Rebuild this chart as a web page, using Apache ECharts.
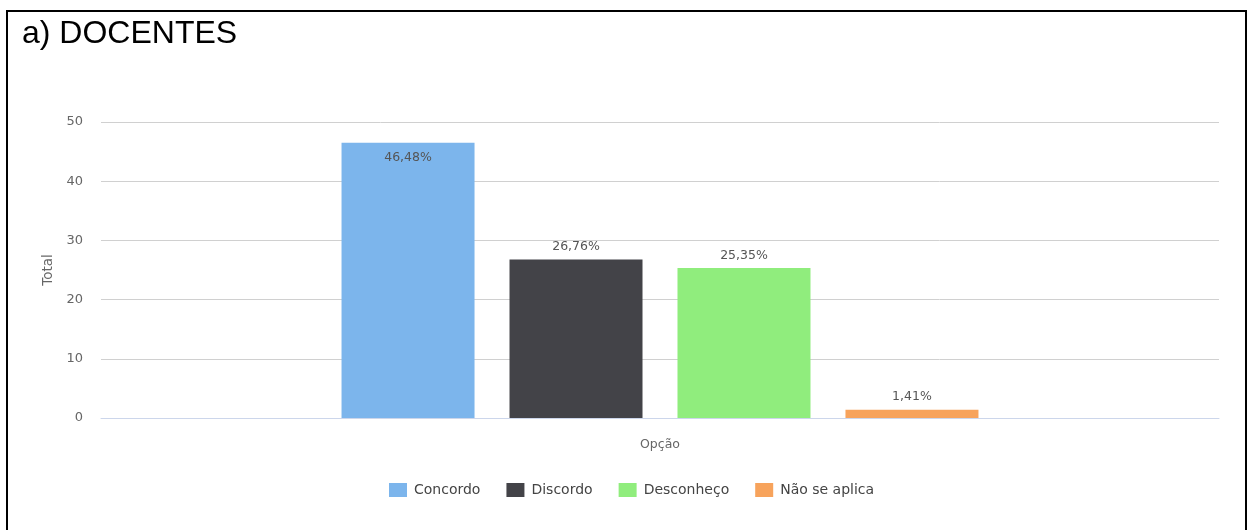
<!DOCTYPE html>
<html>
<head>
<meta charset="utf-8">
<title>a) DOCENTES</title>
<script src="https://cdn.jsdelivr.net/npm/echarts@6/dist/echarts.min.js"></script>
<style>
  html, body { margin: 0; padding: 0; background: #ffffff; }
  #chart { width: 1247px; height: 530px; }
</style>
</head>
<body>
<div id="chart"></div>
<script>
// Survey answers (percent of respondents) for the "Opção" question
const seriesNames = ['Concordo', 'Discordo', 'Desconheço', 'Não se aplica'];
const seriesValues = [46.48, 26.76, 25.35, 1.41];
const seriesColors = ['#7cb5ec', '#434348', '#90ed7d', '#f7a35c'];
const categories = [''];
const yTicks = { min: 0, max: 50, interval: 10 };

const FONT = '"DejaVu Sans", Verdana, sans-serif';

const chart = echarts.init(document.getElementById('chart'), null, { renderer: 'canvas' });

const series = seriesNames.map((name, i) => ({
  name: name,
  type: 'bar',
  data: [seriesValues[i]],
  barWidth: 133,
  barGap: '26.3%',
  itemStyle: { color: seriesColors[i] },
  label: {
    show: true,
    // tallest bar keeps its label inside the top edge
    position: i === 0 ? 'insideTop' : 'top',
    distance: i === 0 ? 8 : 6,
    color: '#555555',
    fontFamily: FONT,
    fontSize: 12.5,
    formatter: p => p.value.toFixed(2).replace('.', ',') + '%'
  }
}));

chart.setOption({
  animation: false,
  backgroundColor: '#ffffff',
  graphic: [
    {
      type: 'polyline',
      shape: { points: [[7, 530], [7, 11], [1246, 11], [1246, 530]] },
      style: { stroke: '#000000', lineWidth: 2, fill: null }
    },
    {
      type: 'text',
      left: 22,
      top: 18,
      style: {
        text: 'a) DOCENTES',
        fill: '#000000',
        font: '32px "Liberation Sans", Arial, sans-serif'
      }
    }
  ],
  grid: { left: 101, right: 28, top: 122, bottom: 112, containLabel: false },
  legend: {
    data: seriesNames,
    left: 384,
    top: 478,
    itemWidth: 18,
    itemHeight: 14,
    itemGap: 26,
    icon: 'rect',
    textStyle: { color: '#444444', fontFamily: FONT, fontSize: 14, padding: [0, 0, 0, 2] }
  },
  xAxis: {
    type: 'category',
    data: categories,
    name: 'Opção',
    nameLocation: 'middle',
    nameGap: 20,
    nameTextStyle: { color: '#666666', fontFamily: FONT, fontSize: 12.5 },
    axisLine: { lineStyle: { color: '#ccd6eb', width: 1 } },
    axisTick: { show: false },
    axisLabel: { show: false }
  },
  yAxis: {
    type: 'value',
    min: yTicks.min,
    max: yTicks.max,
    interval: yTicks.interval,
    name: 'Total',
    nameLocation: 'middle',
    nameGap: 45,
    nameTextStyle: { color: '#666666', fontFamily: FONT, fontSize: 13.5 },
    axisLine: { show: false },
    axisTick: { show: false },
    axisLabel: { color: '#666666', fontFamily: FONT, fontSize: 13, margin: 18 },
    splitLine: { lineStyle: { color: '#d0d0d0', width: 1 } }
  },
  series: series
});
</script>
</body>
</html>
